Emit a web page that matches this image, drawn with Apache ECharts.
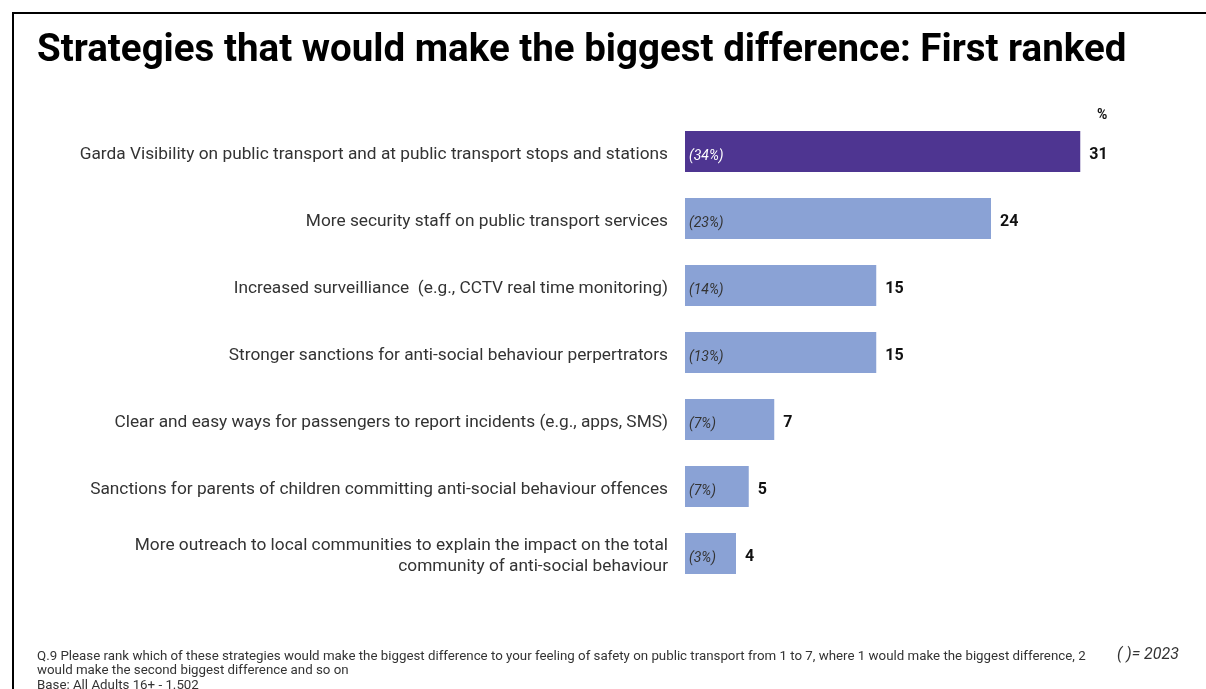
<!DOCTYPE html>
<html>
<head>
<meta charset="utf-8">
<script src="https://cdn.jsdelivr.net/npm/echarts@6/dist/echarts.min.js"></script>
<style>
  html, body { margin: 0; padding: 0; background: #fff; }
  #chart { width: 1206px; height: 689px; }
</style>
</head>
<body>
<div id="chart"></div>
<script>
// Strategies ranked first for feeling safe on public transport
const categories = [
  'Garda Visibility on public transport and at public transport stops and stations',
  'More security staff on public transport services',
  'Increased surveilliance  (e.g., CCTV real time monitoring)',
  'Stronger sanctions for anti-social behaviour perpertrators',
  'Clear and easy ways for passengers to report incidents (e.g., apps, SMS)',
  'Sanctions for parents of children committing anti-social behaviour offences',
  'More outreach to local communities to explain the impact on the total\ncommunity of anti-social behaviour'
];
const current = [31, 24, 15, 15, 7, 5, 4];
const previous2023 = [34, 23, 14, 13, 7, 7, 3];

const titleText = 'Strategies that would make the biggest difference: First ranked';
const questionText = 'Q.9 Please rank which of these strategies would make the biggest difference to your feeling of safety on public transport from 1 to 7, where 1 would make the biggest difference, 2\nwould make the second biggest difference and so on\nBase: All Adults 16+ - 1.502';
const keyText = '( )= 2023';

const FONT = 'Roboto, "Noto Sans", sans-serif';
const DARK = '#4e3591';
const LIGHT = '#8aa2d5';

const chart = echarts.init(document.getElementById('chart'), null, { renderer: 'canvas' });

chart.setOption({
  backgroundColor: '#ffffff',
  animation: false,
  title: {
    text: titleText,
    left: 32,
    top: 27,
    textStyle: { fontFamily: FONT, fontWeight: 'bold', fontSize: 38.5, color: '#000' }
  },
  grid: { left: 685, top: 118, width: 510, height: 469, containLabel: false },
  xAxis: {
    type: 'value', min: 0, max: 40, show: false
  },
  yAxis: {
    type: 'category',
    data: categories,
    inverse: true,
    axisLine: { show: false },
    axisTick: { show: false },
    axisLabel: {
      margin: 17,
      fontFamily: FONT,
      fontSize: 17.3,
      color: '#333',
      lineHeight: 21,
      align: 'right',
      // a thin spacer line above each label drops the text slightly below the bar centre
      formatter: v => '{gap| }\n' + v.split('\n').map(s => '{t|' + s + '}').join('\n'),
      rich: {
        gap: { fontSize: 1, lineHeight: 6 },
        t: { fontFamily: FONT, fontSize: 17.3, color: '#333', lineHeight: 21, align: 'right' }
      }
    }
  },
  series: [
    {
      type: 'bar',
      data: current.map((v, i) => ({ value: v, itemStyle: { color: i === 0 ? DARK : LIGHT } })),
      barWidth: 41,
      label: {
        show: true,
        position: 'right',
        distance: 9,
        offset: [0, 3],
        fontFamily: FONT,
        fontWeight: 'bold',
        fontSize: 16,
        color: '#111'
      },
      z: 2
    },
    {
      type: 'bar',
      data: current.map((v, i) => i === 0 ? { value: v, label: { color: '#ffffff' } } : v),
      barWidth: 41,
      barGap: '-100%',
      itemStyle: { color: 'transparent' },
      silent: true,
      label: {
        show: true,
        position: 'insideLeft',
        distance: 4,
        offset: [0, 5],
        fontFamily: FONT,
        fontStyle: 'italic',
        fontSize: 14,
        formatter: p => '(' + previous2023[p.dataIndex] + '%)',
        color: '#333'
      },
      z: 3
    }
  ],
  graphic: [
    { type: 'line', shape: { x1: 12, y1: 13, x2: 1206, y2: 13 }, style: { stroke: '#000', lineWidth: 2 } },
    { type: 'line', shape: { x1: 13, y1: 12, x2: 13, y2: 689 }, style: { stroke: '#000', lineWidth: 2 } },
    { type: 'text', left: 1097, top: 108, style: { text: '%', font: 'bold 14px ' + FONT, fill: '#111' } },
    { type: 'text', left: 37, top: 649, style: { text: questionText, font: '13.3px ' + FONT, fill: '#333', lineHeight: 14.5 } },
    { type: 'text', left: 1117, top: 647, style: { text: keyText, font: 'italic 16px ' + FONT, fill: '#333' } }
  ]
});
</script>
</body>
</html>
